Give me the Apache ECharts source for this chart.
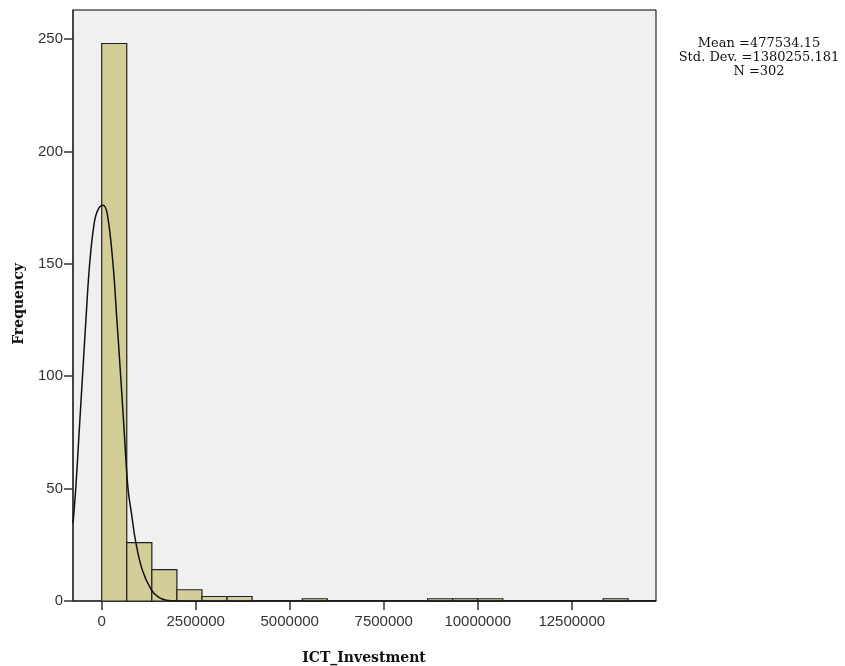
<!DOCTYPE html>
<html>
<head>
<meta charset="utf-8">
<script src="https://cdn.jsdelivr.net/npm/echarts@6/dist/echarts.min.js"></script>
<style>html,body{margin:0;padding:0;background:#fff;}#c{width:845px;height:666px;}</style>
</head>
<body>
<div id="c"></div>
<script>
// Histogram bins (only non-empty bins), bin width
const binWidth = 666667;
const binStart = [0, 666667, 1333333, 2000000, 2666667, 3333333, 5333333, 8666667, 9333333, 10000000, 13333333];
const binCount = [248, 26, 14, 5, 2, 2, 1, 1, 1, 1, 1];

// Normal curve as drawn in the picture
const curveX = [-763000, -690000, -600000, -510000, -420000, -320000, -200000, -100000, 35000, 150000, 300000, 400000, 505000, 600000, 700000, 800000, 904000, 1080000, 1320000, 1500000, 1720000, 2000000, 14740000];
const curveY = [34.6, 50, 75, 100, 125, 150, 168, 174, 176, 172, 150, 126, 100, 75, 50, 38, 26.4, 13.8, 4.9, 1.8, 0.3, 0, 0];

const xTicks = [0, 2500000, 5000000, 7500000, 10000000, 12500000];
const yTicks = [0, 50, 100, 150, 200, 250];

const statLines = ['Mean =477534.15', 'Std. Dev. =1380255.181', 'N =302'];

const chart = echarts.init(document.getElementById('c'), null, {renderer: 'canvas'});
const barData = binStart.map((s, i) => [s, s + binWidth, binCount[i]]);
const lineData = curveX.map((x, i) => [x, curveY[i]]);
const sans = 'Liberation Sans, Arial, sans-serif';
const serif = 'DejaVu Serif, serif';

chart.setOption({
  animation: false,
  grid: {left: 73, top: 10, right: 189, bottom: 65, show: true, backgroundColor: '#f0f0f0', borderColor: '#000', borderWidth: 1},
  xAxis: {
    type: 'value', min: -763000, max: 14740000,
    splitLine: {show: false},
    axisLine: {show: true, onZero: false, lineStyle: {color: '#333', width: 1.5}},
    axisTick: {show: true, customValues: xTicks, length: 9, lineStyle: {color: '#333', width: 1.5}},
    axisLabel: {customValues: xTicks, formatter: v => String(v), color: '#333', fontFamily: sans, fontSize: 15, margin: 13}
  },
  yAxis: {
    type: 'value', min: 0, max: 262.9,
    splitLine: {show: false},
    axisLine: {show: true, onZero: false, lineStyle: {color: '#333', width: 1.5}},
    axisTick: {show: true, customValues: yTicks, length: 9, lineStyle: {color: '#333', width: 1.5}},
    axisLabel: {customValues: yTicks, formatter: v => String(v), color: '#333', fontFamily: sans, fontSize: 15, margin: 10}
  },
  series: [
    {
      type: 'custom',
      data: barData,
      encode: {x: [0, 1], y: 2},
      renderItem: function (params, api) {
        const p0 = api.coord([api.value(0), api.value(2)]);
        const p1 = api.coord([api.value(1), 0]);
        return {type: 'rect', shape: {x: p0[0], y: p0[1], width: p1[0] - p0[0], height: p1[1] - p0[1]},
          style: {fill: '#d3ce98', stroke: '#222', lineWidth: 1.2}};
      },
      z: 2
    },
    {
      type: 'line', data: lineData, smooth: 0.4, showSymbol: false, symbol: 'none',
      lineStyle: {color: '#111', width: 1.5}, z: 3
    }
  ],
  graphic: [
    {type: 'text', x: 759, y: 37, style: {text: statLines.join('\n'), fontFamily: serif, fontSize: 13, lineHeight: 13.7, textAlign: 'center', fill: '#111'}},
    {type: 'text', x: 364, y: 658, style: {text: 'ICT_Investment', fontFamily: serif, fontWeight: 'bold', fontSize: 14, textAlign: 'center', textVerticalAlign: 'middle', fill: '#111'}},
    {type: 'text', x: 19, y: 304, rotation: Math.PI / 2, style: {text: 'Frequency', fontFamily: serif, fontWeight: 'bold', fontSize: 14, textAlign: 'center', textVerticalAlign: 'middle', fill: '#111'}}
  ]
});
</script>
</body>
</html>
